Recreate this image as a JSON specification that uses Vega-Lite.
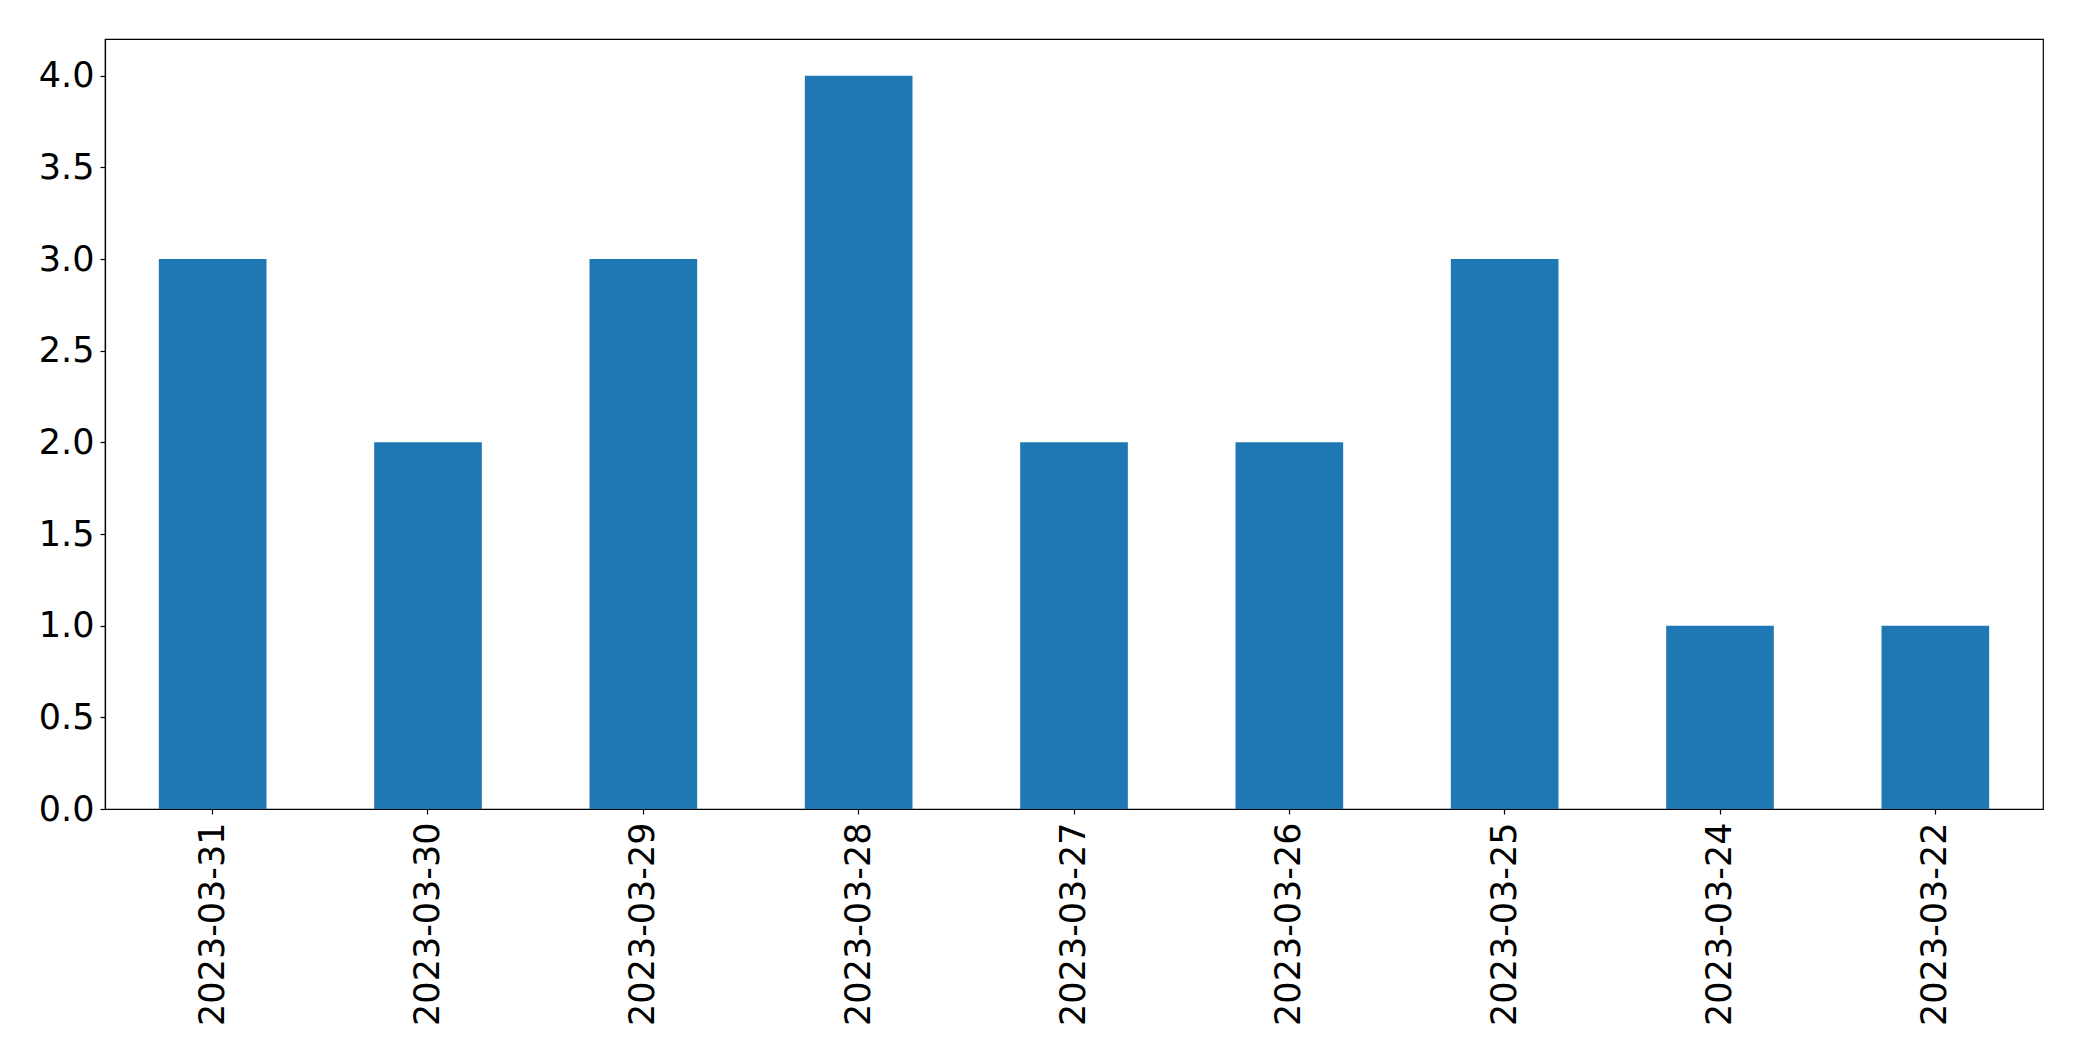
{
  "$schema": "https://vega.github.io/schema/vega-lite/v6.json",
  "autosize": {"type": "none"},
  "padding": {"left": 105, "top": 39, "right": 39, "bottom": 252},
  "width": 1938,
  "height": 770,
  "background": "white",
  "config": {
    "view": {"stroke": "black", "strokeWidth": 1.2},
    "axis": {
      "labelFont": "DejaVu Sans",
      "labelFontSize": 35,
      "labelColor": "black",
      "labelLimit": 0,
      "domainColor": "black",
      "tickColor": "black",
      "tickSize": 5,
      "tickWidth": 1.2,
      "domainWidth": 1.2,
      "grid": false,
      "title": null
    }
  },
  "data": {
    "values": [
      {"date": "2023-03-31", "count": 3},
      {"date": "2023-03-30", "count": 2},
      {"date": "2023-03-29", "count": 3},
      {"date": "2023-03-28", "count": 4},
      {"date": "2023-03-27", "count": 2},
      {"date": "2023-03-26", "count": 2},
      {"date": "2023-03-25", "count": 3},
      {"date": "2023-03-24", "count": 1},
      {"date": "2023-03-22", "count": 1}
    ]
  },
  "mark": {"type": "bar", "color": "#1f77b4"},
  "encoding": {
    "x": {
      "field": "date",
      "type": "nominal",
      "sort": null,
      "scale": {"paddingInner": 0.5, "paddingOuter": 0.25},
      "axis": {"labelAngle": -90, "labelPadding": 8, "labelAlign": "right", "labelBaseline": "middle"}
    },
    "y": {
      "field": "count",
      "type": "quantitative",
      "scale": {"domain": [0, 4.2], "nice": false},
      "axis": {"values": [0, 0.5, 1, 1.5, 2, 2.5, 3, 3.5, 4], "format": ".1f", "labelPadding": 6}
    }
  }
}
